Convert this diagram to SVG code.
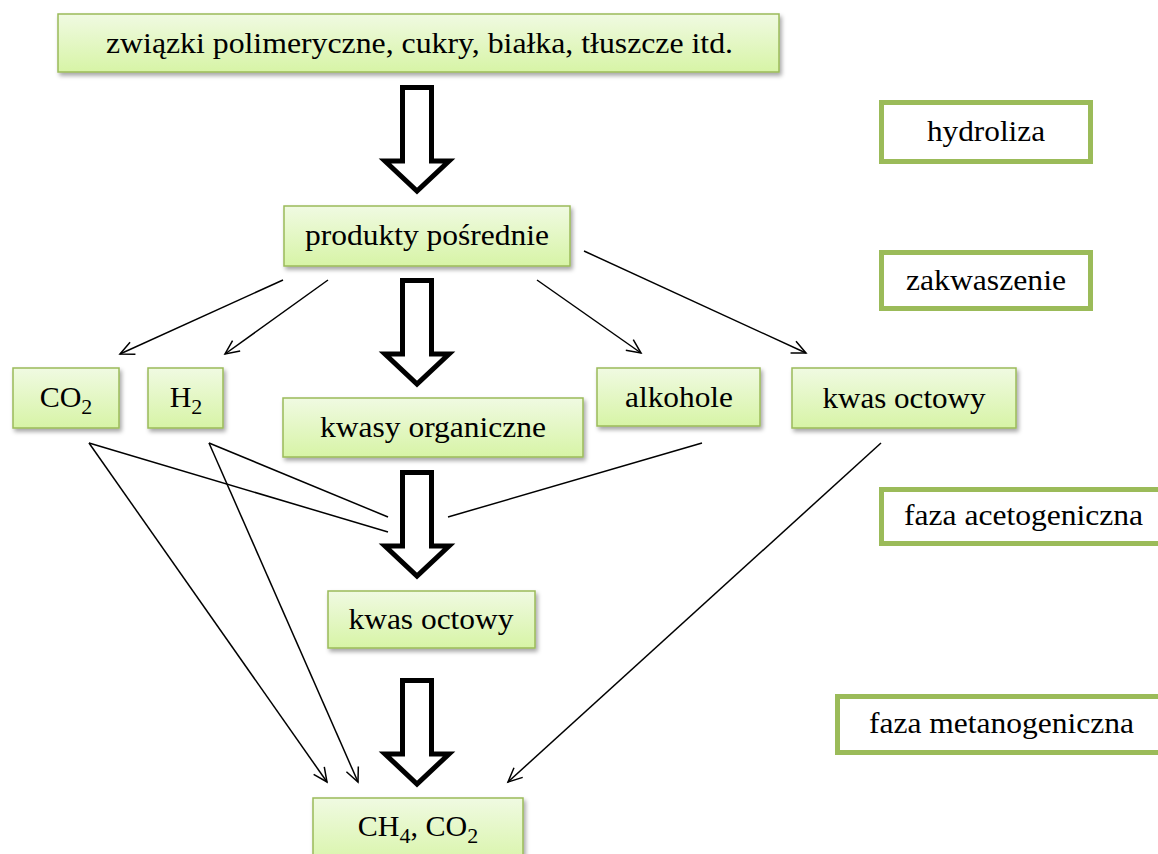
<svg xmlns="http://www.w3.org/2000/svg" width="1158" height="854" viewBox="0 0 1158 854">
<defs>
  <linearGradient id="gFill" x1="0" y1="0" x2="0" y2="1">
    <stop offset="0" stop-color="#f0fae2"/>
    <stop offset="1" stop-color="#d7f4a6"/>
  </linearGradient>
  <filter id="shadow" x="-10%" y="-20%" width="130%" height="150%">
    <feDropShadow dx="2" dy="3" stdDeviation="2" flood-color="#000" flood-opacity="0.35"/>
  </filter>
  <marker id="open" markerUnits="userSpaceOnUse" markerWidth="20" markerHeight="16" refX="0" refY="0" viewBox="-16 -8 18 16" orient="auto">
    <path d="M-14,-6.5 L0,0 L-14,6.5" fill="none" stroke="#000" stroke-width="1.5"/>
  </marker>
  <style>
    .box{fill:url(#gFill);stroke:#9bbb59;stroke-width:1.5;filter:url(#shadow);}
    .phase{fill:#fff;stroke:#9bbb59;stroke-width:5;}
    .t{font-family:'Liberation Serif','DejaVu Serif',serif;font-size:30px;fill:#000;text-anchor:middle;}
    .big{fill:#fff;stroke:#000;stroke-width:5;stroke-linejoin:miter;stroke-miterlimit:10;}
    .ln{stroke:#000;stroke-width:1.5;fill:none;}
    .arr{marker-end:url(#open);}
    .sub{font-size:22px;}
  </style>
</defs>
<rect width="1158" height="854" fill="#fff"/>

<g id="connectors">
  <path class="big" d="M402.5,87.5 H431.5 V161 H449 L417,191 L385,161 H402.5 Z"/>
  <path class="big" d="M402.5,280.5 H431.5 V354 H449 L417,384 L385,354 H402.5 Z"/>
  <path class="big" d="M402.5,472.5 H431.5 V546 H449 L417,576 L385,546 H402.5 Z"/>
  <path class="big" d="M402.5,680.5 H431.5 V754 H449 L417,784 L385,754 H402.5 Z"/>
  <line class="ln arr" x1="283" y1="280" x2="120" y2="354"/>
  <line class="ln arr" x1="328" y1="280" x2="225" y2="354"/>
  <line class="ln arr" x1="537" y1="280" x2="641" y2="353"/>
  <line class="ln arr" x1="584" y1="251" x2="806" y2="353"/>
  <line class="ln" x1="89" y1="443" x2="388" y2="532"/>
  <line class="ln arr" x1="89" y1="443" x2="327" y2="782"/>
  <line class="ln" x1="209" y1="443" x2="388" y2="517"/>
  <line class="ln arr" x1="209" y1="443" x2="358" y2="782"/>
  <line class="ln" x1="702" y1="443" x2="448" y2="517"/>
  <line class="ln arr" x1="881" y1="443" x2="508" y2="782"/>
</g>

<g id="n-polimery">
  <rect class="box" x="58" y="14" width="721" height="58"/>
  <text class="t" x="419.5" y="53" textLength="627" lengthAdjust="spacingAndGlyphs">związki polimeryczne, cukry, białka, tłuszcze itd.</text>
</g>
<g id="n-produkty">
  <rect class="box" x="284" y="206" width="286" height="60"/>
  <text class="t" x="427" y="245" textLength="244" lengthAdjust="spacingAndGlyphs">produkty pośrednie</text>
</g>
<g id="n-co2">
  <rect class="box" x="13" y="368" width="106" height="60"/>
  <text class="t" x="66" y="407">CO<tspan class="sub" dy="7">2</tspan></text>
</g>
<g id="n-h2">
  <rect class="box" x="148" y="368" width="75" height="60"/>
  <text class="t" x="186" y="407">H<tspan class="sub" dy="7">2</tspan></text>
</g>
<g id="n-kwasy">
  <rect class="box" x="283" y="398" width="300" height="59"/>
  <text class="t" x="433" y="437" textLength="226" lengthAdjust="spacingAndGlyphs">kwasy organiczne</text>
</g>
<g id="n-alkohole">
  <rect class="box" x="597" y="368" width="163" height="58"/>
  <text class="t" x="679" y="407" textLength="108" lengthAdjust="spacingAndGlyphs">alkohole</text>
</g>
<g id="n-kwas-octowy-1">
  <rect class="box" x="792" y="368" width="224" height="60"/>
  <text class="t" x="904" y="408" textLength="163" lengthAdjust="spacingAndGlyphs">kwas octowy</text>
</g>
<g id="n-kwas-octowy-2">
  <rect class="box" x="328" y="591" width="207" height="57"/>
  <text class="t" x="431" y="629" textLength="165" lengthAdjust="spacingAndGlyphs">kwas octowy</text>
</g>
<g id="n-ch4">
  <rect class="box" x="313" y="798" width="210" height="70"/>
  <text class="t" x="418" y="836">CH<tspan class="sub" dy="7">4</tspan><tspan dy="-7">, CO</tspan><tspan class="sub" dy="7">2</tspan></text>
</g>

<g id="p-hydroliza">
  <rect class="phase" x="881.5" y="102.5" width="209" height="59"/>
  <text class="t" x="986" y="141" textLength="118" lengthAdjust="spacingAndGlyphs">hydroliza</text>
</g>
<g id="p-zakwaszenie">
  <rect class="phase" x="881.5" y="252.5" width="209" height="56"/>
  <text class="t" x="986" y="290" textLength="160" lengthAdjust="spacingAndGlyphs">zakwaszenie</text>
</g>
<g id="p-acetogeniczna">
  <rect class="phase" x="881.5" y="489.5" width="300" height="54"/>
  <text class="t" x="1023.5" y="525" textLength="239" lengthAdjust="spacingAndGlyphs">faza acetogeniczna</text>
</g>
<g id="p-metanogeniczna">
  <rect class="phase" x="837.5" y="696.5" width="340" height="56"/>
  <text class="t" x="1001.5" y="733" textLength="265" lengthAdjust="spacingAndGlyphs">faza metanogeniczna</text>
</g>
</svg>
